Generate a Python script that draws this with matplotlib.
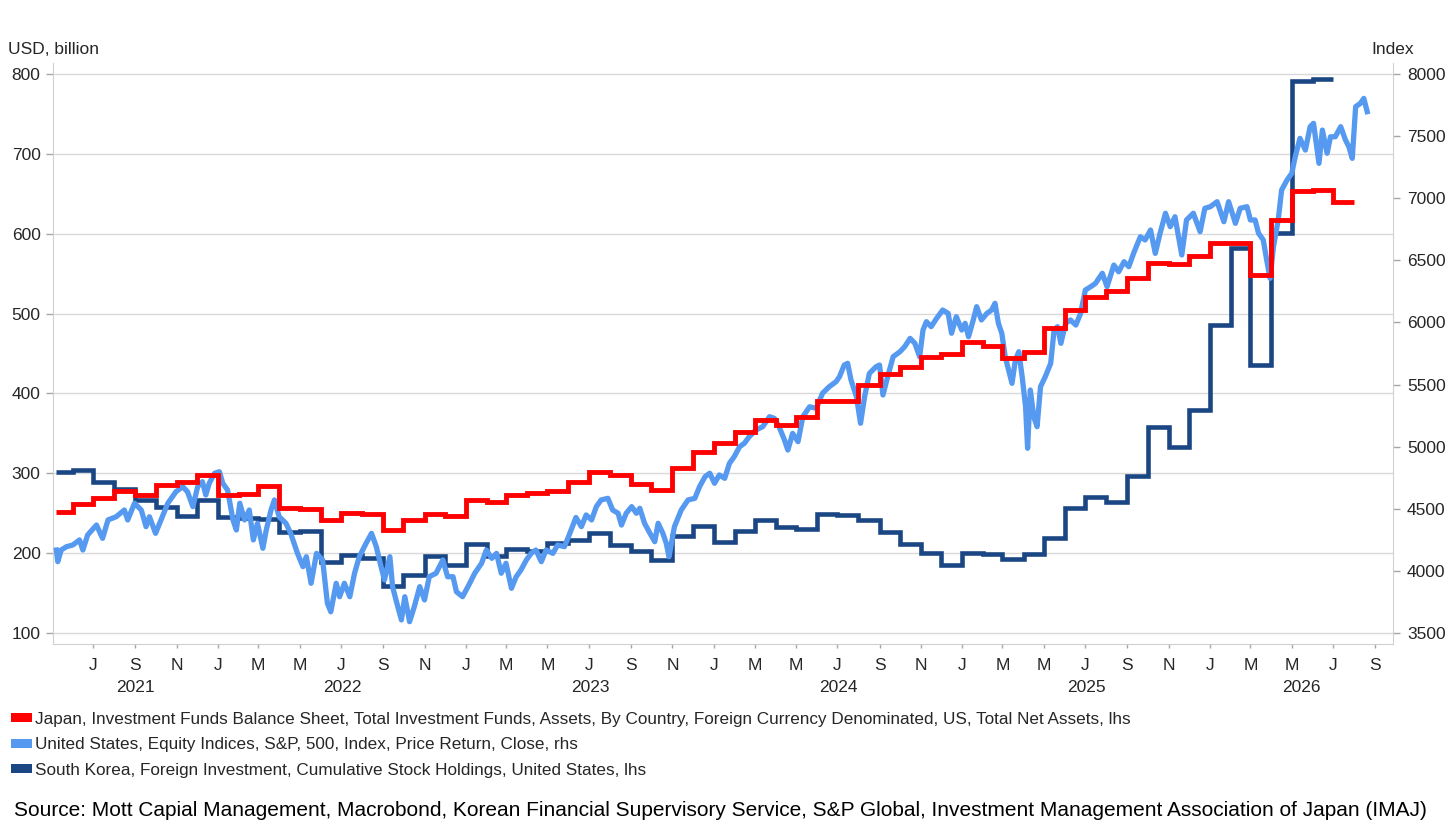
import matplotlib

matplotlib.use("Agg")
import matplotlib.pyplot as plt
import matplotlib.dates as mdates
from matplotlib.patches import Patch
from matplotlib.ticker import FuncFormatter
import pandas as pd

plt.rcParams["font.family"] = ["Liberation Sans", "DejaVu Sans"]

RED = "#FF0000"
LIGHT_BLUE = "#5599F0"
NAVY = "#1B4684"
INK = "#262626"
GRID_H = "#D9D9D9"
GRID_V = "#BFBFBF"
SPINE = "#D0D0D0"
TICK = "#A6A6A6"

# monthly series, first month starts mid-May 2021
series_start = "2021-05-07"

# Japan investment funds, US assets (USD bn, lhs), May 2021 .. Jul 2026
japan_values = [
    252, 262, 269.5, 278, 273, 285, 289.5, 298,
    273, 274, 283.5, 257, 255, 241, 250, 249.5, 229.5, 242, 248.5, 247,
    266, 264, 273, 275, 278, 289.5, 301, 298, 286.5, 279, 306, 327,
    338, 352, 366.5, 360.5, 370, 391, 390, 411, 424, 433.5, 446, 449,
    464, 459, 444.5, 452, 482, 505, 521, 528.5, 545, 563, 562.5, 572,
    589, 589, 548, 617, 654, 655, 640,
]

# South Korea cumulative US stock holdings (USD bn, lhs), May 2021 .. Jun 2026
korea_values = [
    301, 303.5, 289, 280.5, 266, 258, 246.5, 266.5,
    245, 244.5, 243, 227, 227.5, 189.5, 198, 194.5, 159, 172, 196.5, 185,
    211, 197, 205, 202.5, 212.5, 217, 225, 210, 203, 191.5, 222, 234,
    213.5, 228, 241.5, 233, 230.5, 249, 248, 241.5, 226, 211.5, 200.5, 185,
    200, 199, 193, 199, 219.5, 257, 270, 264.5, 296, 357.5, 333.5, 379.5,
    485.5, 582.5, 435.5, 600.5, 791.5, 793.5,
]

# S&P 500 close (index, rhs)
spx_dates = [
    "2021-05-08", "2021-05-10", "2021-05-15", "2021-05-23", "2021-06-01", "2021-06-11",
    "2021-06-16", "2021-06-23", "2021-07-06", "2021-07-15", "2021-07-23", "2021-08-04",
    "2021-08-16", "2021-08-21", "2021-08-31", "2021-09-10", "2021-09-17", "2021-09-22",
    "2021-10-01", "2021-10-09", "2021-10-19", "2021-10-31", "2021-11-10", "2021-11-17",
    "2021-11-25", "2021-12-02", "2021-12-09", "2021-12-14", "2021-12-19", "2021-12-27",
    "2022-01-03", "2022-01-08", "2022-01-15", "2022-01-23", "2022-01-28", "2022-02-02",
    "2022-02-09", "2022-02-16", "2022-02-22", "2022-02-28", "2022-03-08", "2022-03-13",
    "2022-03-20", "2022-03-25", "2022-04-01", "2022-04-11", "2022-04-18", "2022-04-28",
    "2022-05-06", "2022-05-11", "2022-05-18", "2022-05-26", "2022-06-04", "2022-06-11",
    "2022-06-16", "2022-06-24", "2022-06-29", "2022-07-06", "2022-07-14", "2022-07-21",
    "2022-07-28", "2022-08-07", "2022-08-15", "2022-08-22", "2022-08-29", "2022-09-03",
    "2022-09-11", "2022-09-15", "2022-09-20", "2022-09-28", "2022-10-03", "2022-10-10",
    "2022-10-17", "2022-10-25", "2022-11-01", "2022-11-08", "2022-11-18", "2022-11-28",
    "2022-12-05", "2022-12-13", "2022-12-18", "2022-12-27", "2023-01-04", "2023-01-14",
    "2023-01-24", "2023-01-31", "2023-02-08", "2023-02-15", "2023-02-22", "2023-03-01",
    "2023-03-09", "2023-03-16", "2023-03-23", "2023-03-31", "2023-04-07", "2023-04-14",
    "2023-04-22", "2023-04-29", "2023-05-09", "2023-05-16", "2023-05-26", "2023-06-02",
    "2023-06-12", "2023-06-20", "2023-06-27", "2023-07-05", "2023-07-12", "2023-07-19",
    "2023-07-29", "2023-08-05", "2023-08-13", "2023-08-18", "2023-08-25", "2023-09-02",
    "2023-09-09", "2023-09-14", "2023-09-21", "2023-09-29", "2023-10-06", "2023-10-11",
    "2023-10-18", "2023-10-23", "2023-10-27", "2023-11-04", "2023-11-14", "2023-11-24",
    "2023-12-04", "2023-12-11", "2023-12-19", "2023-12-26", "2024-01-02", "2024-01-09",
    "2024-01-17", "2024-01-24", "2024-01-31", "2024-02-08", "2024-02-15", "2024-02-22",
    "2024-03-03", "2024-03-13", "2024-03-23", "2024-03-30", "2024-04-06", "2024-04-14",
    "2024-04-19", "2024-04-26", "2024-05-04", "2024-05-11", "2024-05-21", "2024-05-31",
    "2024-06-09", "2024-06-19", "2024-06-29", "2024-07-04", "2024-07-11", "2024-07-16",
    "2024-07-21", "2024-07-29", "2024-08-04", "2024-08-10", "2024-08-17", "2024-08-27",
    "2024-09-01", "2024-09-06", "2024-09-13", "2024-09-21", "2024-10-01", "2024-10-08",
    "2024-10-16", "2024-10-23", "2024-10-30", "2024-11-04", "2024-11-09", "2024-11-16",
    "2024-11-24", "2024-12-03", "2024-12-11", "2024-12-16", "2024-12-23", "2024-12-31",
    "2025-01-05", "2025-01-10", "2025-01-17", "2025-01-22", "2025-01-29", "2025-02-06",
    "2025-02-13", "2025-02-18", "2025-02-23", "2025-02-28", "2025-03-05", "2025-03-10",
    "2025-03-15", "2025-03-20", "2025-03-25", "2025-03-30", "2025-04-04", "2025-04-07",
    "2025-04-11", "2025-04-16", "2025-04-21", "2025-04-26", "2025-05-03", "2025-05-11",
    "2025-05-16", "2025-05-21", "2025-05-26", "2025-06-02", "2025-06-09", "2025-06-17",
    "2025-06-24", "2025-07-01", "2025-07-09", "2025-07-16", "2025-07-26", "2025-08-02",
    "2025-08-12", "2025-08-19", "2025-08-27", "2025-09-03", "2025-09-10", "2025-09-20",
    "2025-09-27", "2025-10-05", "2025-10-12", "2025-10-19", "2025-10-27", "2025-11-03",
    "2025-11-10", "2025-11-20", "2025-11-27", "2025-12-07", "2025-12-17", "2025-12-24",
    "2026-01-01", "2026-01-11", "2026-01-21", "2026-01-28", "2026-02-07", "2026-02-14",
    "2026-02-24", "2026-03-01", "2026-03-08", "2026-03-13", "2026-03-20", "2026-03-25",
    "2026-03-30", "2026-04-04", "2026-04-11", "2026-04-16", "2026-04-24", "2026-05-01",
    "2026-05-06", "2026-05-13", "2026-05-21", "2026-05-28", "2026-06-02", "2026-06-10",
    "2026-06-15", "2026-06-22", "2026-06-27", "2026-07-04", "2026-07-12", "2026-07-19",
    "2026-07-24", "2026-07-29", "2026-08-03", "2026-08-10", "2026-08-15", "2026-08-20",
]
spx_values = [
    4168, 4074, 4168, 4195, 4208, 4249, 4168, 4289, 4369, 4262, 4410, 4436,
    4490, 4410, 4544, 4490, 4356, 4436, 4302, 4410, 4544, 4637, 4678, 4637,
    4517, 4678, 4718, 4611, 4705, 4786, 4798, 4705, 4651, 4410, 4329, 4544,
    4410, 4490, 4249, 4383, 4182, 4329, 4490, 4571, 4436, 4383, 4302, 4141,
    4034, 4114, 3900, 4141, 4088, 3739, 3671, 3900, 3792, 3900, 3792, 3981,
    4114, 4222, 4302, 4195, 4034, 3927, 4114, 3873, 3766, 3605, 3792, 3591,
    3712, 3873, 3766, 3953, 3981, 4088, 3953, 3953, 3832, 3792, 3873, 3981,
    4061, 4168, 4101, 4141, 3981, 4061, 3860, 3953, 4007, 4088, 4141, 4168,
    4074, 4168, 4141, 4208, 4195, 4289, 4430, 4356, 4450, 4410, 4517, 4571,
    4584, 4490, 4464, 4369, 4464, 4517, 4464, 4504, 4383, 4302, 4235, 4383,
    4302, 4222, 4114, 4356, 4490, 4571, 4584, 4678, 4758, 4786, 4705, 4772,
    4745, 4866, 4919, 5000, 5027, 5080, 5134, 5161, 5241, 5228, 5161, 5054,
    4973, 5107, 5040, 5241, 5321, 5309, 5430, 5483, 5523, 5563, 5657, 5671,
    5537, 5402, 5188, 5402, 5590, 5644, 5657, 5416, 5563, 5724, 5764, 5805,
    5872, 5832, 5724, 5939, 6006, 5966, 6033, 6100, 6073, 5913, 6046, 5939,
    5993, 5885, 6020, 6127, 6020, 6073, 6100, 6154, 5993, 5913, 5724, 5617,
    5510, 5698, 5764, 5563, 5322, 4987, 5456, 5241, 5161, 5483, 5563, 5671,
    5939, 5966, 5832, 5993, 6020, 5979, 6073, 6261, 6288, 6315, 6396, 6288,
    6462, 6408, 6489, 6449, 6556, 6690, 6664, 6744, 6556, 6717, 6879, 6771,
    6851, 6543, 6825, 6879, 6731, 6919, 6932, 6972, 6811, 6972, 6798, 6919,
    6932, 6825, 6825, 6718, 6664, 6503, 6355, 6610, 6825, 7066, 7147, 7201,
    7334, 7482, 7388, 7576, 7603, 7281, 7549, 7362, 7495, 7495, 7576, 7469,
    7415, 7321, 7737, 7764, 7804, 7697,
]

left_ticks = list(range(100, 900, 100))
right_ticks = list(range(3500, 8500, 500))
years = list(range(2021, 2027))

legend_labels = [
    "Japan, Investment Funds Balance Sheet, Total Investment Funds, Assets, By Country, "
    "Foreign Currency Denominated, US, Total Net Assets, lhs",
    "United States, Equity Indices, S&P, 500, Index, Price Return, Close, rhs",
    "South Korea, Foreign Investment, Cumulative Stock Holdings, United States, lhs",
]
source_text = (
    "Source: Mott Capial Management, Macrobond, Korean Financial Supervisory Service, "
    "S&P Global, Investment Management Association of Japan (IMAJ)"
)


def month_edges(n):
    starts = pd.date_range("2021-06-01", periods=n, freq="MS")
    return mdates.date2num([pd.Timestamp(series_start)] + list(starts))


def to_right(v):
    return right_ticks[0] + (v - left_ticks[0]) * (right_ticks[-1] - right_ticks[0]) / (
        left_ticks[-1] - left_ticks[0]
    )


W, H = 1456, 839
fig = plt.figure(figsize=(W / 100, H / 100), dpi=100, facecolor="white")
ax = fig.add_axes([53 / W, 1 - 644 / H, (1393 - 53) / W, (644 - 63) / H])
ax_spx = ax.twinx()
ax_jp = ax.twinx()

ylim = (86.2, 813.8)
xlim = mdates.date2num([pd.Timestamp("2021-05-03"), pd.Timestamp("2026-09-27")])

ax.stairs(korea_values, month_edges(len(korea_values)), baseline=None,
          color=NAVY, linewidth=3.3)
ax_spx.plot(mdates.date2num(pd.to_datetime(spx_dates)), spx_values,
            color=LIGHT_BLUE, linewidth=3.8, solid_joinstyle="round")
ax_jp.stairs(japan_values, month_edges(len(japan_values)), baseline=None,
             color=RED, linewidth=3.5)

ax.set_xlim(xlim)
ax.set_ylim(ylim)
ax_jp.set_ylim(ylim)
ax_spx.set_ylim(to_right(ylim[0]), to_right(ylim[1]))

# left axis
ax.set_yticks(left_ticks)
ax.tick_params(axis="y", length=5, width=1, color=TICK, pad=4, labelsize=12.5, labelcolor=INK)
ax.grid(True, axis="y", color=GRID_H, linewidth=1)

# x axis: J M M J S N labels, vertical lines at each January
ax.xaxis.set_major_locator(mdates.MonthLocator(bymonth=[1, 3, 5, 7, 9, 11]))
ax.xaxis.set_major_formatter(FuncFormatter(lambda v, pos: mdates.num2date(v).strftime("%b")[0]))
ax.xaxis.set_minor_locator(mdates.YearLocator())
ax.tick_params(axis="x", which="major", length=3, width=1, color=TICK, pad=7,
               labelsize=12.5, labelcolor=INK)
ax.tick_params(axis="x", which="minor", length=0)
ax.grid(True, axis="x", which="minor", color=GRID_V, linewidth=1.2)
ax.set_axisbelow(True)

for year in years:
    lo = max(xlim[0], mdates.date2num(pd.Timestamp(f"{year}-01-01")))
    hi = min(xlim[1], mdates.date2num(pd.Timestamp(f"{year + 1}-01-01")))
    ax.text((lo + hi) / 2, -44 / 581, str(year), transform=ax.get_xaxis_transform(),
            ha="center", va="center", fontsize=12.5, color=INK)

# right axis
ax_spx.set_yticks(right_ticks)
ax_spx.tick_params(axis="y", length=5, width=1, color=TICK, pad=5, labelsize=12.5, labelcolor=INK)

ax_jp.yaxis.set_visible(False)

for a in (ax, ax_spx, ax_jp):
    for side in ("top", "right", "left", "bottom"):
        a.spines[side].set_visible(False)
for side in ("left", "bottom"):
    ax.spines[side].set_visible(True)
    ax.spines[side].set_color(SPINE)
ax_spx.spines["right"].set_visible(True)
ax_spx.spines["right"].set_color(SPINE)

fig.text(8 / W, 1 - 50 / H, "USD, billion", ha="left", va="center", fontsize=12.5, color=INK)
fig.text(1414 / W, 1 - 50 / H, "Index", ha="right", va="center", fontsize=12.5, color=INK)

handles = [Patch(facecolor=c, edgecolor="none") for c in (RED, LIGHT_BLUE, NAVY)]
fig.legend(handles, legend_labels, loc="upper left", bbox_to_anchor=(11 / W, 1 - 712 / H),
           frameon=False, fontsize=12.3, handlelength=1.2, handleheight=0.42,
           handletextpad=0.2, labelspacing=0.6, borderpad=0, borderaxespad=0,
           labelcolor=INK)

fig.text(14 / W, 1 - 810 / H, source_text, ha="left", va="center", fontsize=15, color="black")

fig.savefig("out.png", dpi=100, facecolor="white")
plt.close(fig)
